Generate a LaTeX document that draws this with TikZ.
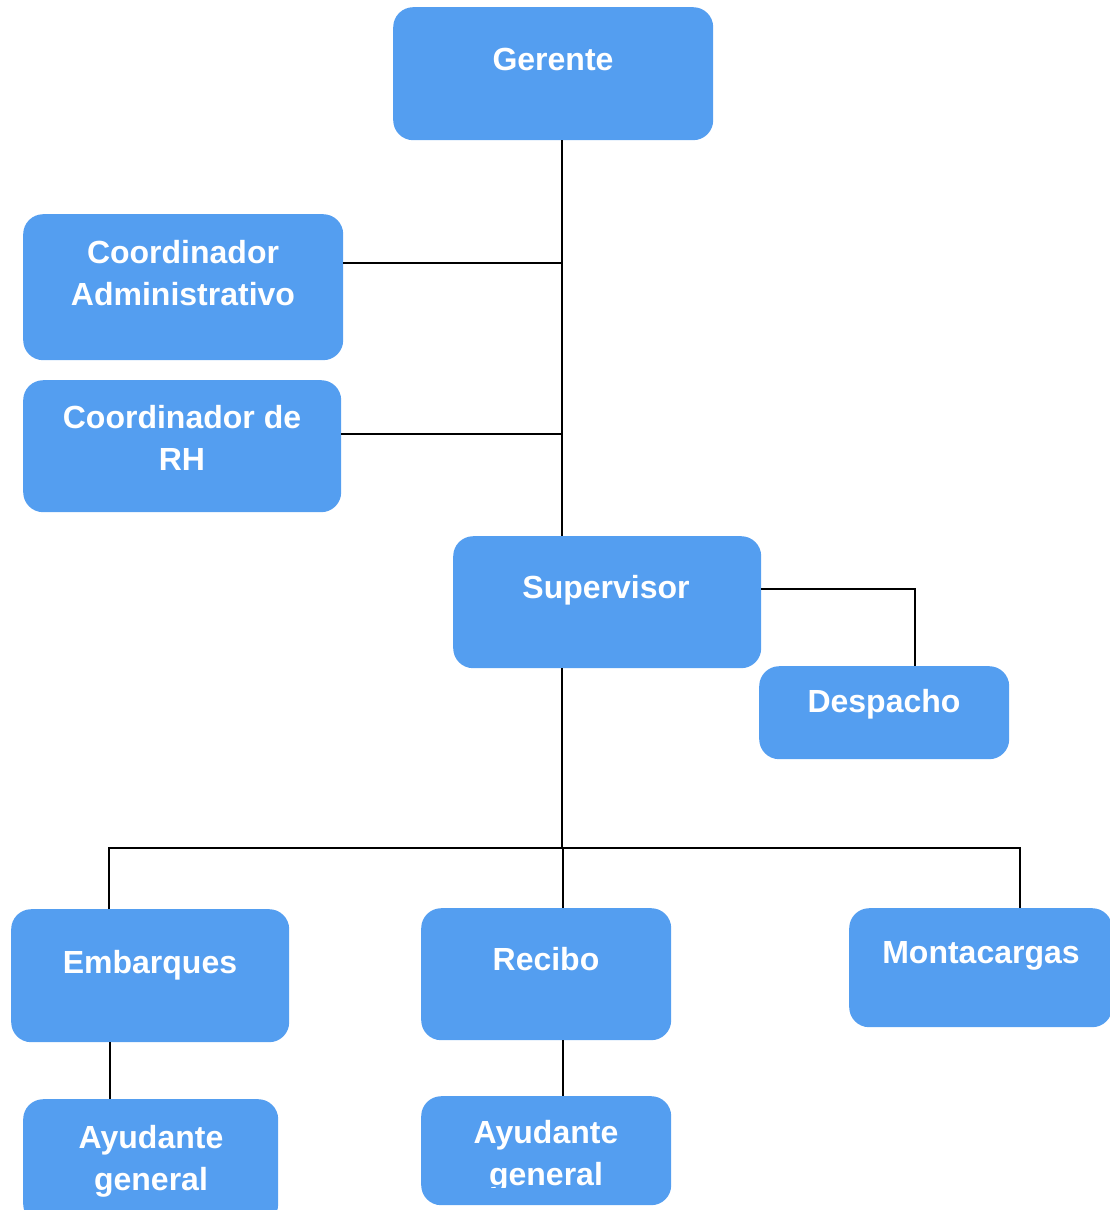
\documentclass[tikz,border=0pt]{standalone}
\usepackage{fontspec}
\setmainfont{Liberation Sans}
\definecolor{boxblue}{RGB}{84,158,240}
% centred lines whose baseline is the first line's baseline
\newcommand{\stacklines}[1]{\begin{tabular}[t]{@{}c@{}}#1\end{tabular}}
\begin{document}
\begin{tikzpicture}[x=1pt,y=-1pt,
  orgbox/.style={draw=none,fill=boxblue,rounded corners=20pt,anchor=north west,inner sep=0pt},
  orgtext/.style={anchor=base,inner sep=0pt,text=white,font=\fontsize{32}{42}\selectfont\bfseries},
  link/.style={draw=black,line width=2pt}]
\useasboundingbox (0,0) rectangle (1109,1210);

% boxes
\node[orgbox,minimum width=320pt,minimum height=133pt] (gerente) at (393,7) {};
\node[orgbox,minimum width=320pt,minimum height=146pt] (admin) at (23,214) {};
\node[orgbox,minimum width=318pt,minimum height=132pt] (rh) at (23,380) {};
\node[orgbox,minimum width=308pt,minimum height=132pt] (supervisor) at (453,536) {};
\node[orgbox,minimum width=250pt,minimum height=93pt] (despacho) at (759,666) {};
\node[orgbox,minimum width=278pt,minimum height=133pt] (embarques) at (11,909) {};
\node[orgbox,minimum width=250pt,minimum height=132pt] (recibo) at (421,908) {};
\node[orgbox,minimum width=263pt,minimum height=119pt] (montacargas) at (849,908) {};
\node[orgbox,minimum width=255pt,minimum height=125pt] (ayudanteA) at (23,1099) {};
\node[orgbox,minimum width=250pt,minimum height=109pt] (ayudanteB) at (421,1096) {};

% labels
\node[orgtext] (gerente-t) at (553,70) {Gerente};
\node[orgtext] (admin-t) at (183,263) {\stacklines{Coordinador\\Administrativo}};
\node[orgtext] (rh-t) at (182,428) {\stacklines{Coordinador de\\RH}};
\node[orgtext] (supervisor-t) at (606,598) {Supervisor};
\node[orgtext] (despacho-t) at (884,712) {Despacho};
\node[orgtext] (embarques-t) at (150,973) {Embarques};
\node[orgtext] (recibo-t) at (546,970) {Recibo};
\node[orgtext] (montacargas-t) at (981,963) {Montacargas};
\node[orgtext] (ayudanteA-t) at (151,1148) {\stacklines{Ayudante\\general}};
\begin{scope}
  \clip (ayudanteB.north west) rectangle (671,1187);
  \node[orgtext] (ayudanteB-t) at (546,1143) {\stacklines{Ayudante\\general}};
\end{scope}

% junction points
\coordinate (spine) at (562,0);
\coordinate (jadmin) at (562,263);
\coordinate (jrh) at (562,434);
\coordinate (jdesp) at (915,589);
\coordinate (bus) at (562,848);
\coordinate (busL) at (109,848);
\coordinate (busM) at (563,848);
\coordinate (busR) at (1020,848);
\coordinate (dropA) at (110,0);
\coordinate (dropB) at (563,0);

% connectors
\draw[link] (gerente.south -| spine) -- (supervisor.north -| spine);
\draw[link] (jadmin -| admin.east) -- (jadmin);
\draw[link] (jrh -| rh.east) -- (jrh);
\draw[link] (jdesp -| supervisor.east) -- (jdesp) -- (jdesp |- despacho.north);
\draw[link] (supervisor.south -| spine) -- (bus);
\draw[link] (busL |- embarques.north) -- (busL) -- (busR) -- (busR |- montacargas.north);
\draw[link] (busM) -- (busM |- recibo.north);
\draw[link] (embarques.south -| dropA) -- (ayudanteA.north -| dropA);
\draw[link] (recibo.south -| dropB) -- (ayudanteB.north -| dropB);
\end{tikzpicture}
\end{document}
